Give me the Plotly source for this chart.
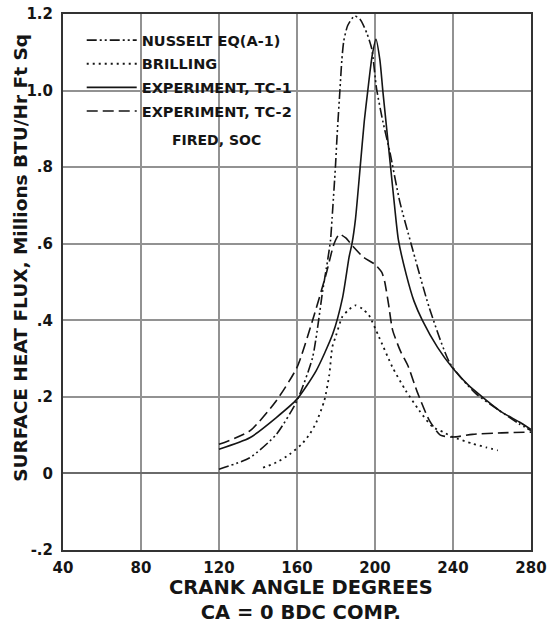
import plotly.graph_objects as go

# Crank angle (deg) and surface heat flux (millions BTU/hr ft^2)
nusselt_x = [120, 135.8, 149.4, 160, 168, 173.2, 175.7, 177.2, 178, 179.7, 180.6, 182, 183, 184, 186,
             189.5, 192.5, 195.8, 198.3, 200.8, 204, 207.6, 212.7, 218.5, 227.7, 238.5, 251.6, 263.6, 273.8, 280]
nusselt_y = [0.011, 0.041, 0.102, 0.19, 0.303, 0.478, 0.556, 0.61, 0.667, 0.8, 0.886, 1.0, 1.08, 1.13, 1.17,
             1.195, 1.185, 1.15, 1.11, 1.005, 0.92, 0.84, 0.71, 0.6, 0.435, 0.287, 0.209, 0.165, 0.13, 0.112]

brilling_x = [142.6, 150, 156.2, 162.7, 166.4, 169.6, 174, 176.6, 178.1, 180, 183.2, 186, 190, 193.5, 196.9,
              202, 208.9, 215.7, 222.6, 229.4, 235, 240, 249.9, 257, 263]
brilling_y = [0.015, 0.03, 0.05, 0.078, 0.102, 0.13, 0.19, 0.259, 0.33, 0.36, 0.409, 0.425, 0.439, 0.43, 0.413,
              0.357, 0.278, 0.217, 0.165, 0.122, 0.108, 0.095, 0.078, 0.068, 0.06]

tc1_x = [120, 135.8, 149.4, 160, 169.8, 178.3, 183.4, 186.7, 188.2, 190, 192.4, 194.5, 196.3, 198.5, 200.5,
         202.5, 204, 206, 208, 210, 212, 216, 220, 224.3, 232, 240, 248, 255, 265, 273.8, 280]
tc1_y = [0.063, 0.093, 0.146, 0.194, 0.268, 0.364, 0.46, 0.565, 0.6, 0.665, 0.8, 0.92, 1.0, 1.09, 1.134,
         1.08, 1.0, 0.9, 0.8, 0.7, 0.61, 0.52, 0.45, 0.4, 0.33, 0.274, 0.23, 0.2, 0.16, 0.135, 0.115]

tc2_x = [120, 135.8, 149.4, 160, 168, 174.9, 179, 181.7, 185, 188.5, 194, 200, 203.5, 205, 207, 209,
         213, 217, 221.5, 227.7, 233.5, 240, 250, 265, 280]
tc2_y = [0.076, 0.111, 0.19, 0.277, 0.4, 0.52, 0.6, 0.625, 0.615, 0.594, 0.565, 0.546, 0.525, 0.5, 0.44, 0.375,
         0.32, 0.28, 0.215, 0.14, 0.1, 0.095, 0.102, 0.106, 0.108]

x_ticks = [40, 80, 120, 160, 200, 240, 280]
y_ticks = [-0.2, 0, 0.2, 0.4, 0.6, 0.8, 1.0, 1.2]
y_tick_labels = ["-.2", "0", ".2", ".4", ".6", ".8", "1.0", "1.2"]

series_names = ["NUSSELT EQ(A-1)", "BRILLING", "EXPERIMENT, TC-1", "EXPERIMENT, TC-2"]

FONT = "DejaVu Sans"
INK = "#151515"
GRID = "#929292"

fig = go.Figure()
fig.add_trace(go.Scatter(x=nusselt_x, y=nusselt_y, mode="lines", name=series_names[0], legendgroup="a",
                         line=dict(color=INK, width=1.6, dash="10px,3px,2px,3px,2px,3px", shape="spline", smoothing=0.6)))
fig.add_trace(go.Scatter(x=brilling_x, y=brilling_y, mode="lines", name=series_names[1], legendgroup="b",
                         line=dict(color=INK, width=1.8, dash="2px,4px", shape="spline", smoothing=0.6)))
fig.add_trace(go.Scatter(x=tc1_x, y=tc1_y, mode="lines", name=series_names[2], legendgroup="c",
                         line=dict(color=INK, width=1.6, dash="solid", shape="spline", smoothing=0.6)))
fig.add_trace(go.Scatter(x=tc2_x, y=tc2_y, mode="lines", name=series_names[3], legendgroup="d",
                         line=dict(color=INK, width=1.6, dash="11px,5px", shape="spline", smoothing=0.6)))

fig.add_annotation(text="<b>FIRED, SOC</b>", x=0.329, y=0.765, xref="paper", yref="paper",
                   xanchor="center", yanchor="middle",
                   showarrow=False, font=dict(family=FONT, size=14, color=INK))

fig.add_annotation(text="<b>SURFACE HEAT FLUX, Millions BTU/Hr Ft Sq</b>", textangle=-90,
                   x=-0.09, y=0.545, xref="paper", yref="paper", xanchor="center", yanchor="middle",
                   showarrow=False, font=dict(family=FONT, size=18.5, color=INK))
fig.add_annotation(text="<b>CRANK ANGLE DEGREES</b><br><b>CA = 0 BDC COMP.</b>",
                   x=0.508, y=-0.045, xref="paper", yref="paper", xanchor="center", yanchor="top",
                   showarrow=False, font=dict(family=FONT, size=19.5, color=INK))

fig.update_layout(
    template="none",
    width=548, height=628,
    margin=dict(l=62.5, r=16.5, t=14, b=78),
    paper_bgcolor="white", plot_bgcolor="white",
    font=dict(family=FONT, color=INK),
    showlegend=True,
    legend=dict(x=0.04, y=0.981, xanchor="left", yanchor="top", bgcolor="rgba(255,255,255,0)",
                font=dict(family=FONT, size=14.5, color=INK, weight="bold"), tracegroupgap=1.8,
                itemwidth=50),
)
fig.update_xaxes(range=[40, 280], tickvals=x_ticks, showgrid=True, gridcolor=GRID, gridwidth=1.5,
                 zeroline=False, showline=True, linecolor="#333", linewidth=2, mirror=True,
                 ticks="outside", ticklen=3, tickcolor="rgba(0,0,0,0)",
                 tickfont=dict(family=FONT, size=15, color=INK, weight="bold"))
fig.update_yaxes(range=[-0.2, 1.2], tickvals=y_ticks, ticktext=y_tick_labels, showgrid=True,
                 gridcolor=GRID, gridwidth=1.5, zeroline=True, zerolinecolor="#6a6a6a", zerolinewidth=1.8,
                 showline=True, linecolor="#333", linewidth=2, mirror=True,
                 ticks="outside", ticklen=5, tickcolor="rgba(0,0,0,0)",
                 tickfont=dict(family=FONT, size=15, color=INK, weight="bold"))

fig.write_html("out.html")
